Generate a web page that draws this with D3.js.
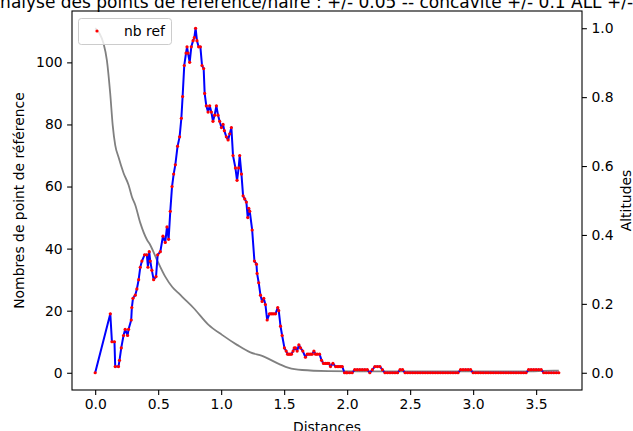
<!DOCTYPE html>
<html><head><meta charset="utf-8">
<script src="https://cdn.jsdelivr.net/npm/d3@7"></script>
<style>body{margin:0;background:#fff;}svg{display:block;font-family:"DejaVu Sans",sans-serif;}</style>
</head><body>
<svg id="c" width="633" height="431"></svg>
<script>
const titleText = "Analyse des points de référence/naire : +/- 0.05 -- concavité +/- 0.1 ALL +/- 0.1";
const xLabel = "Distances";
const yLabelLeft = "Nombres de point de référence";
const yLabelRight = "Altitudes";
const legendLabel = "nb ref";

const xTicks = [0, 0.5, 1.0, 1.5, 2.0, 2.5, 3.0, 3.5];
const yTicksLeft = [0, 20, 40, 60, 80, 100];
const yTicksRight = [0, 0.2, 0.4, 0.6, 0.8, 1.0];

// nb ref series
const refDist = [0,0.12,0.133,0.153,0.159,0.185,0.193,0.207,0.225,0.238,0.257,0.265,0.286,0.291,0.3,0.318,0.331,0.345,0.358,0.371,0.392,0.41,0.419,0.429,0.437,0.45,0.464,0.483,0.496,0.517,0.538,0.556,0.57,0.583,0.596,0.61,0.623,0.636,0.654,0.67,0.684,0.694,0.707,0.721,0.729,0.737,0.75,0.763,0.777,0.787,0.797,0.808,0.821,0.835,0.848,0.861,0.869,0.882,0.896,0.909,0.922,0.935,0.948,0.962,0.975,0.988,1.002,1.015,1.025,1.041,1.055,1.068,1.081,1.094,1.113,1.126,1.139,1.147,1.161,1.174,1.187,1.2,1.211,1.219,1.227,1.246,1.264,1.28,1.285,1.298,1.312,1.325,1.338,1.351,1.365,1.383,1.395,1.405,1.418,1.431,1.449,1.457,1.471,1.484,1.502,1.516,1.527,1.537,1.548,1.558,1.571,1.58,1.59,1.603,1.617,1.63,1.648,1.669,1.683,1.696,1.709,1.722,1.736,1.749,1.762,1.781,1.797,1.812,1.828,1.842,1.855,1.868,1.887,1.908,1.921,1.934,1.948,1.961,1.979,1.993,
2.00,2.02,2.04,2.06,2.08,2.10,2.12,2.14,2.16,2.18,2.20,2.22,2.24,2.26,2.28,2.30,2.32,2.34,2.36,2.38,2.40,2.42,2.44,2.46,2.48,2.50,2.52,2.54,2.56,2.58,2.60,2.62,2.64,2.66,2.68,2.70,2.72,2.74,2.76,2.78,2.80,2.82,2.84,2.86,2.88,2.90,2.92,2.94,2.96,2.98,3.00,3.02,3.04,3.06,3.08,3.10,3.12,3.14,3.16,3.18,3.20,3.22,3.24,3.26,3.28,3.30,3.32,3.34,3.36,3.38,3.40,3.42,3.44,3.46,3.48,3.50,3.52,3.54,3.56,3.58,3.60,3.62,3.64,3.66,3.68];
const refCount = [0,19,10,10,2,2,4,8,12,14,12,14,17,21,24,25,27,30,34,36,38,38,34,39,36,33,30,31,38,39,44,42,47,43,52,60,64,67,73,76,82,89,99,103,105,103,100,105,107,108,111,107,105,105,99,98,90,86,84,86,84,81,83,86,83,81,79,80,78,76,75,77,79,70,66,62,66,70,64,57,56,55,50,53,52,46,36,35,32,29,25,23,24,22,17,19,19,19,19,19,21,20,15,12,8,7,6,6,6,6,7,8,8,7,9,8,7,5,6,6,6,6,7,6,6,6,4,3,3,3,3,2,3,2,2,2,2,2,0,0,
0,0,0,1,1,1,1,1,1,0,1,2,2,2,1,0,0,0,0,0,0,1,1,0,0,0,0,0,0,0,0,0,0,0,0,0,0,0,0,0,0,0,0,0,0,1,1,1,1,1,0,0,0,0,0,0,0,0,0,0,0,0,0,0,0,0,0,0,0,0,0,0,1,1,1,1,1,1,0,0,0,0,0,0,0];

// altitude series
const altDist = [0,0.034,0.066,0.093,0.119,0.139,0.159,0.185,0.225,0.265,0.292,0.318,0.358,0.411,0.437,0.49,0.556,0.612,0.662,0.689,0.781,0.9,1.007,1.126,1.232,1.325,1.457,1.537,1.643,1.852,2.17,2.6,3.0,3.4,3.64,3.68];
const altValue = [1.0,0.985,0.956,0.907,0.812,0.719,0.661,0.626,0.58,0.545,0.51,0.487,0.435,0.386,0.371,0.328,0.279,0.249,0.231,0.221,0.188,0.139,0.11,0.081,0.059,0.049,0.026,0.014,0.008,0.005,0.004,0.004,0.004,0.004,0.006,0.006];

const svg = d3.select("#c");
const L = 72, R = 582, T = 11, B = 390;

const xMax = d3.max(refDist), xPad = xMax * 0.05;
const x = d3.scaleLinear().domain([-xPad, xMax + xPad]).range([L, R]);
const yMax = d3.max(refCount), yPad = yMax * 0.05;
const yL = d3.scaleLinear().domain([-yPad, yMax + yPad]).range([B, T]);
const yR = d3.scaleLinear().domain([-0.05, 1.05]).range([B, T]);

const refData = refDist.map((d, i) => ({d, v: refCount[i]}));
const altData = altDist.map((d, i) => ({d, v: altValue[i]}));

// altitude line
svg.append("path").datum(altData)
  .attr("fill", "none").attr("stroke", "#808080").attr("stroke-width", 1.8)
  .attr("stroke-linejoin", "round")
  .attr("d", d3.line().curve(d3.curveMonotoneX).x(p => x(p.d)).y(p => yR(p.v)));

// nb ref line
svg.append("path").datum(refData)
  .attr("fill", "none").attr("stroke", "#0000ff").attr("stroke-width", 2)
  .attr("stroke-linejoin", "round")
  .attr("d", d3.line().x(p => x(p.d)).y(p => yL(p.v)));

svg.append("g").selectAll("circle").data(refData).join("circle")
  .attr("cx", p => x(p.d)).attr("cy", p => yL(p.v)).attr("r", 1.6)
  .attr("fill", "#ff0000");

// axes
const fs = 13.9;
const gx = svg.append("g").attr("transform", `translate(0,${B})`)
  .call(d3.axisBottom(x).tickValues(xTicks).tickFormat(d3.format(".1f")).tickSize(4.9).tickPadding(4.5));
const gl = svg.append("g").attr("transform", `translate(${L},0)`)
  .call(d3.axisLeft(yL).tickValues(yTicksLeft).tickFormat(d3.format("d")).tickSize(4.9).tickPadding(4.5));
const gr = svg.append("g").attr("transform", `translate(${R},0)`)
  .call(d3.axisRight(yR).tickValues(yTicksRight).tickFormat(d3.format(".1f")).tickSize(4.9).tickPadding(4.5));
[gx, gl, gr].forEach(g => {
  g.select(".domain").remove();
  g.selectAll(".tick line").attr("stroke", "#000").attr("stroke-width", 1.1);
  g.selectAll(".tick text").attr("font-size", fs).attr("font-family", "DejaVu Sans").attr("fill", "#000");
});

// frame
svg.append("rect").attr("x", L).attr("y", T).attr("width", R - L).attr("height", B - T)
  .attr("fill", "none").attr("stroke", "#000").attr("stroke-width", 1.1);

// labels
svg.append("text").attr("x", (L + R) / 2).attr("y", 432).attr("text-anchor", "middle")
  .attr("font-size", fs).text(xLabel);
svg.append("text").attr("transform", `translate(24,${(T + B) / 2}) rotate(-90)`)
  .attr("text-anchor", "middle").attr("font-size", fs).text(yLabelLeft);
svg.append("text").attr("transform", `translate(631,${(T + B) / 2}) rotate(-90)`)
  .attr("text-anchor", "middle").attr("font-size", fs).text(yLabelRight);
svg.append("text").attr("x", (L + R) / 2).attr("y", 8).attr("text-anchor", "middle")
  .attr("font-size", 17).text(titleText);

// legend
const lg = svg.append("g");
lg.append("rect").attr("x", 78.5).attr("y", 18.5).attr("width", 93).attr("height", 26)
  .attr("rx", 2.8).attr("fill", "#fff").attr("fill-opacity", 0.8).attr("stroke", "#cccccc").attr("stroke-width", 1);
lg.append("circle").attr("cx", 97).attr("cy", 31).attr("r", 1.6).attr("fill", "#ff0000");
lg.append("text").attr("x", 124).attr("y", 36).attr("font-size", fs).text(legendLabel);
</script>
</body></html>
